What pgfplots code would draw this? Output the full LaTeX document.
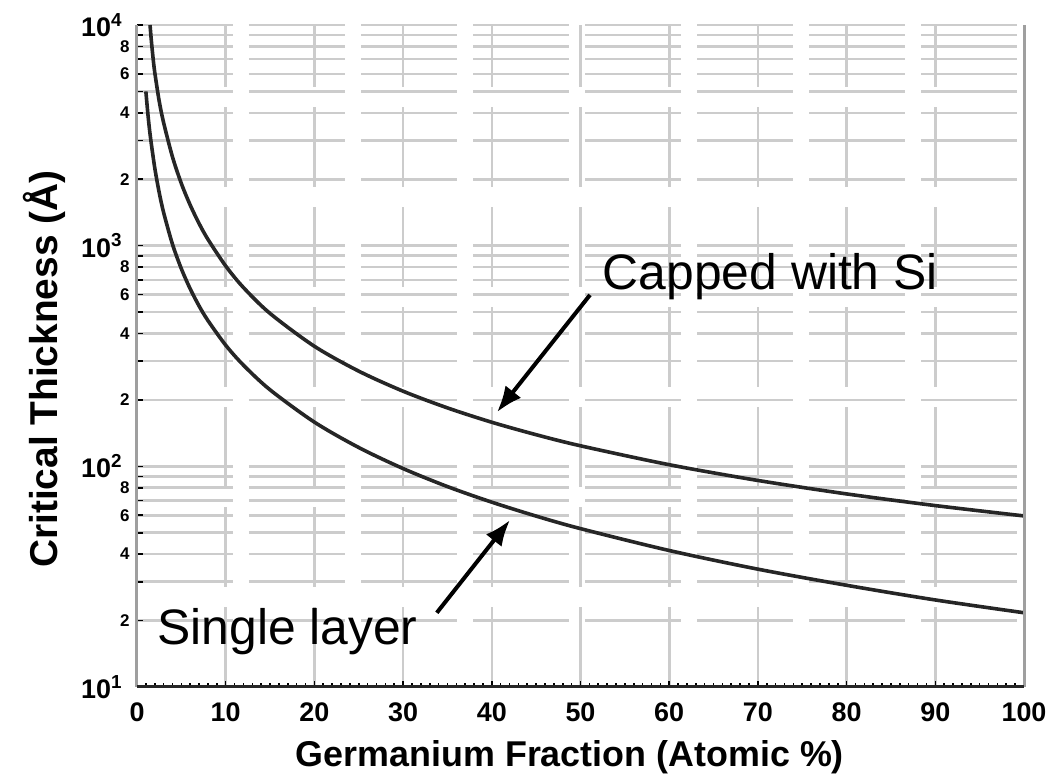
\documentclass[border=0pt]{standalone}
\usepackage{fontspec}
\setmainfont{Liberation Sans}
\usepackage{pgfplots}
\usepackage{pgfplotstable}
\pgfplotsset{compat=1.18}
\usetikzlibrary{arrows.meta}

% Critical thickness (Angstrom) vs. Ge fraction (atomic %)
\pgfplotstableread{
x y
1.47 10000
1.6 8645
1.8 7160
2.0 6110
2.5 4525
3 3611
4 2525
5 1913
6 1527
7 1260
8 1068
10 809
12 646
15 493
20 350
25 270
30 219
35 184
40 158.4
45 139.1
50 123.9
60 101.7
70 86.3
80 75.0
90 66.4
100 59.6
}\capped

\pgfplotstableread{
x y
1.0 5000
1.25 3869
1.5 3137
2 2253
2.5 1744
3 1414
4 1015
5 786
6 637
7 533
8 457.6
10 354
12 287.4
15 222.2
20 158.6
25 121.7
30 97.7
35 80.95
40 68.8
45 59.5
50 52.2
60 41.55
70 34.2
80 28.9
90 24.8
100 21.7
}\single

\newcommand{\majorlab}[1]{\fontsize{13.5}{14}\selectfont\bfseries 10\textsuperscript{#1}}
\newcommand{\minorlab}[1]{\fontsize{8.5}{9}\selectfont\bfseries #1\hspace*{-3.5bp}}

\begin{document}
\begin{tikzpicture}
\begin{axis}[
  scale only axis,
  width=443.5bp, height=331bp,
  at={(0,0)}, anchor=south west,
  ymode=log,
  xmin=0, xmax=100, ymin=10, ymax=10000,
  clip=false,
  axis line style={draw=none},
  tick pos=left,
  tick style={black, line width=0.8bp},
  major tick length=3bp,
  minor tick length=2bp,
  xtick={0,10,20,30,40,50,60,70,80,90,100},
  xticklabels={0,10,20,30,40,50,60,70,80,90,100},
  minor x tick num=9,
  xticklabel style={font=\fontsize{13.5}{14}\selectfont\bfseries, inner sep=0pt, anchor=north, yshift=-7.5bp},
  ytick={10,20,30,40,50,60,70,80,90,100,200,300,400,500,600,700,800,900,1000,2000,3000,4000,5000,6000,7000,8000,9000,10000},
  yticklabels={{\majorlab{1}},{\minorlab{2}},{},{\minorlab{4}},{},{\minorlab{6}},{},{\minorlab{8}},{},
               {\majorlab{2}},{\minorlab{2}},{},{\minorlab{4}},{},{\minorlab{6}},{},{\minorlab{8}},{},
               {\majorlab{3}},{\minorlab{2}},{},{\minorlab{4}},{},{\minorlab{6}},{},{\minorlab{8}},{},
               {\majorlab{4}}},
  yticklabel style={anchor=east, inner sep=0pt, xshift=-7bp},
  yminorticks=false,
  grid=major,
  major x grid style={gray!40, line width=1.3bp, dash pattern=on 40bp off 10bp},
  major y grid style={gray!40, line width=1.3bp, dash pattern=on 48bp off 8bp},
  xlabel={Germanium Fraction (Atomic \%)},
  ylabel={Critical Thickness (Å)},
  xlabel style={font=\fontsize{18}{20}\selectfont\bfseries, at={(axis description cs:0.488,-0.106)}, anchor=center},
  ylabel style={font=\fontsize{19.5}{21}\selectfont\bfseries, at={(axis description cs:-0.104,0.48)}, anchor=center},
]
\addplot[black!85, line width=1.8bp, smooth] table[x=x, y=y] {\capped};
\addplot[black!85, line width=1.8bp, smooth] table[x=x, y=y] {\single};

% frame
\draw[gray!75, line width=1.5bp] (rel axis cs:0,0) -- (rel axis cs:0,1);
\draw[gray!75, line width=1.5bp] (rel axis cs:1,0) -- (rel axis cs:1,1);
\draw[black!85, line width=1.5bp] (rel axis cs:0,0) -- (rel axis cs:1,0);

% annotations
\node[font=\fontsize{25}{30}\selectfont, inner sep=0pt] at (axis cs:71.4,721) {Capped with Si};
\node[font=\fontsize{25}{30}\selectfont, inner sep=0pt] at (axis cs:16.97,17.8) {Single layer};
\draw[black, line width=2bp, -{Latex[length=13bp,width=10bp]}] (axis cs:51.07,598) -- (axis cs:40.59,176);
\draw[black, line width=2bp, -{Latex[length=13bp,width=10bp]}] (axis cs:33.8,21.7) -- (axis cs:42.05,57.1);
\end{axis}
\pgfresetboundingbox
\path (-68.5bp,-46.5bp) rectangle (454.5bp,343.5bp);
\end{tikzpicture}
\end{document}
